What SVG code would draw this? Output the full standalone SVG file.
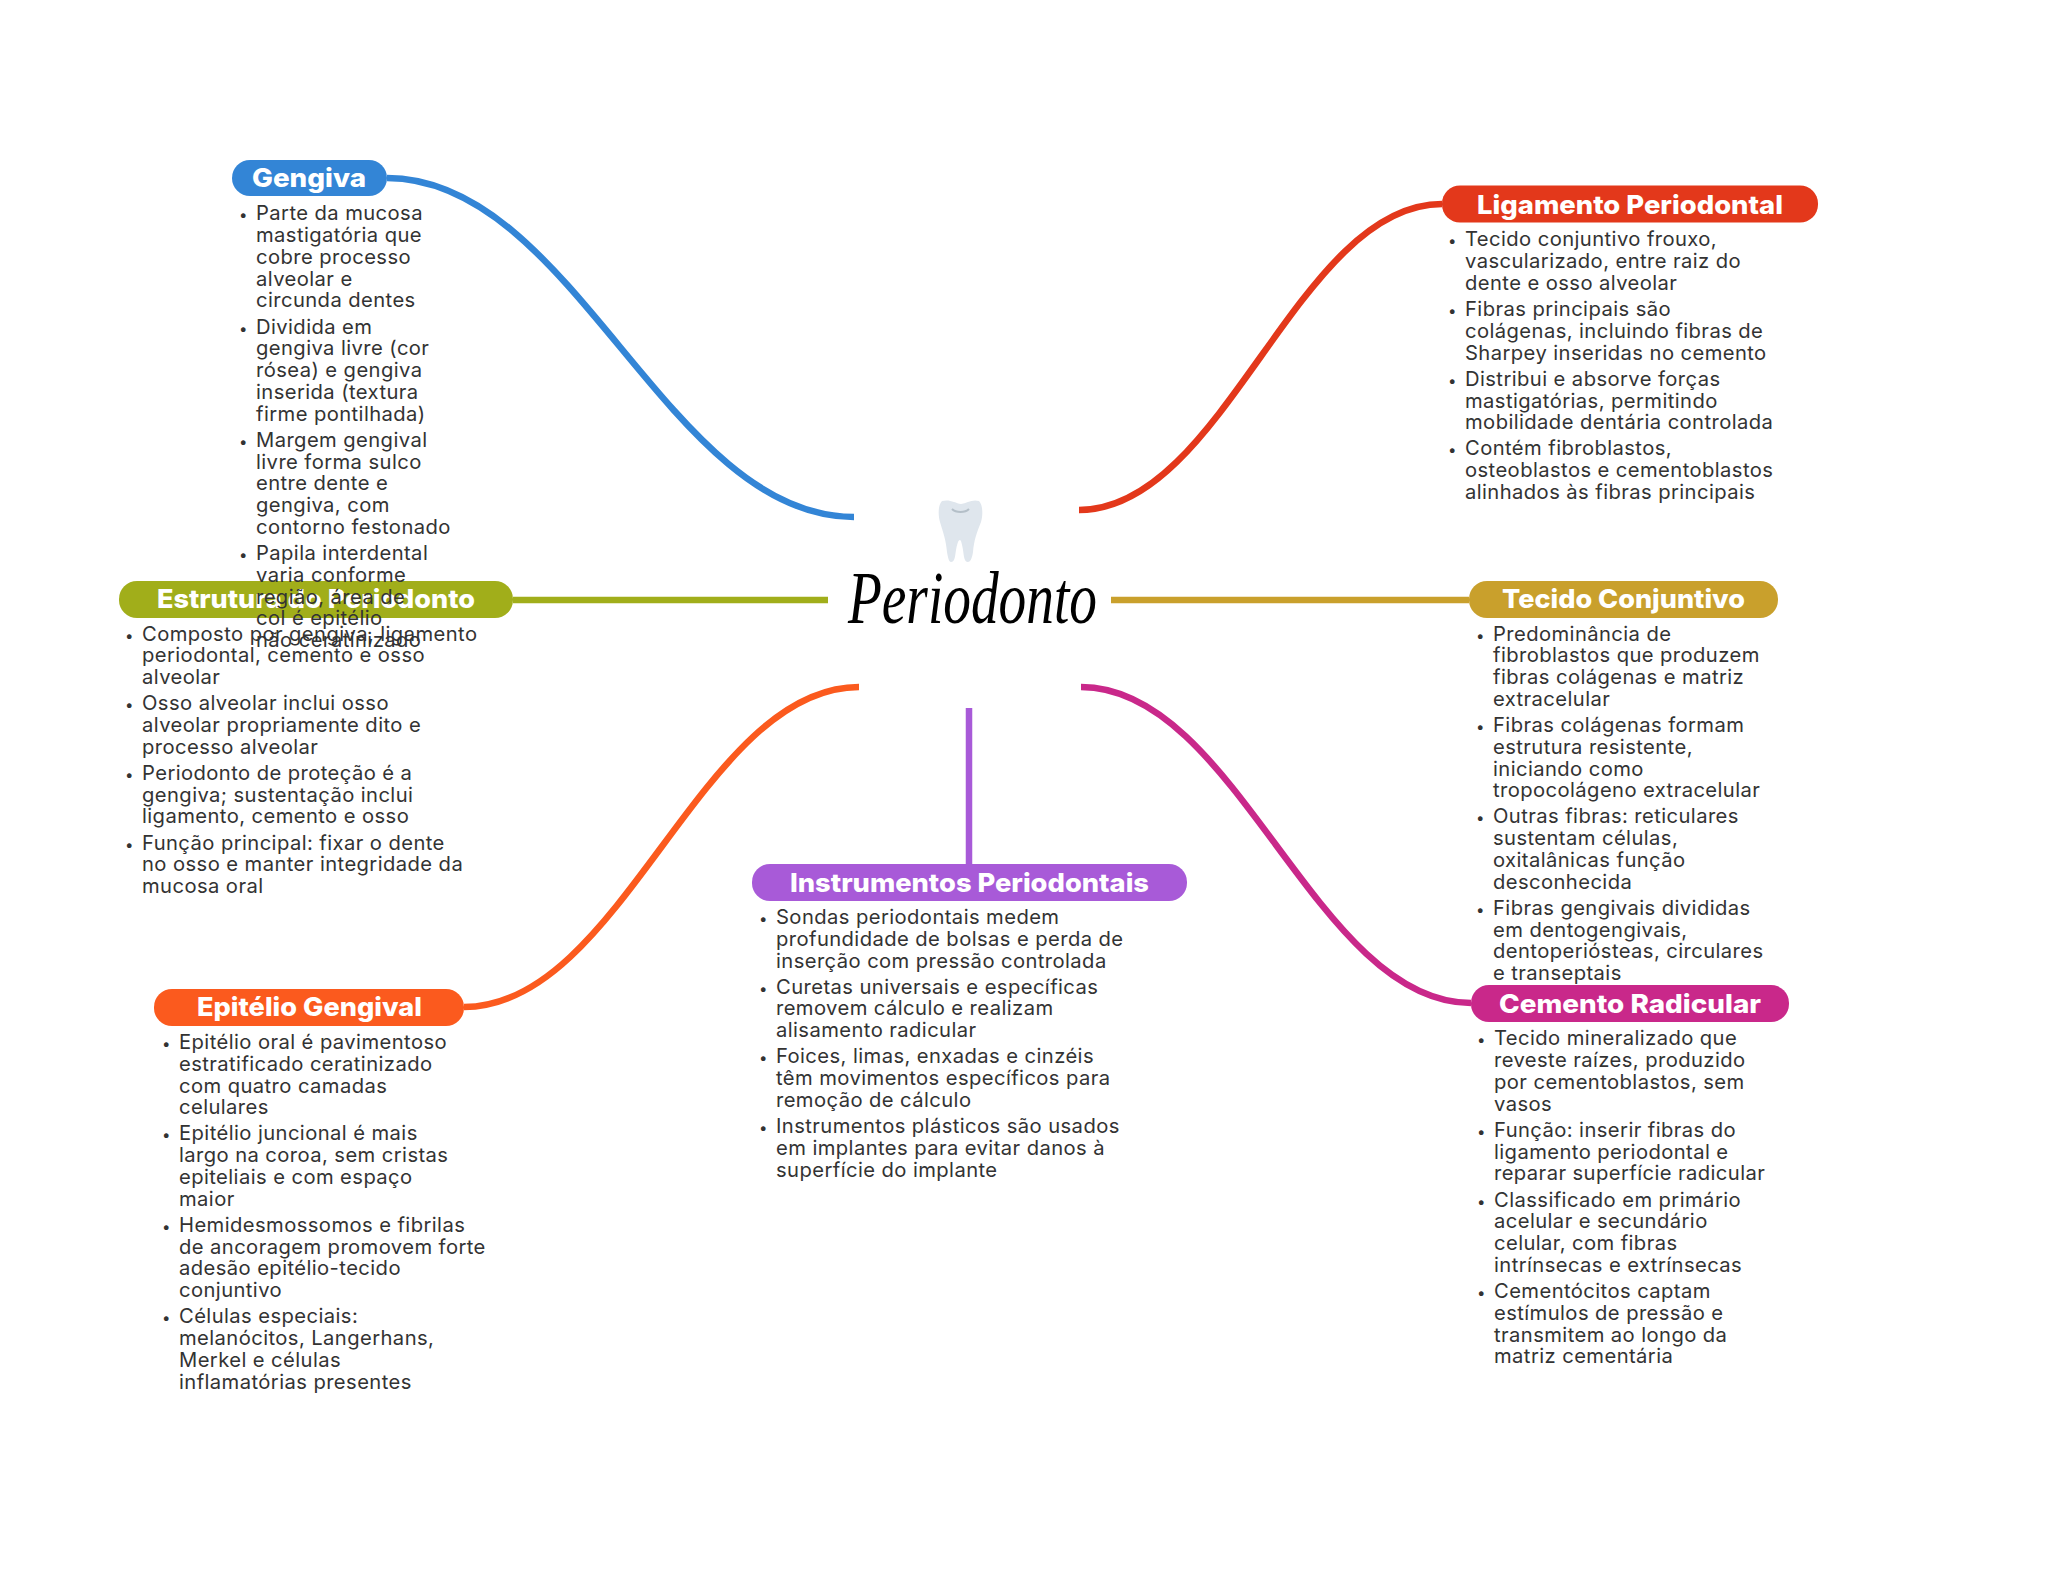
<svg xmlns="http://www.w3.org/2000/svg" width="2048" height="1569" viewBox="0 0 2048 1569">
<style>
.c{fill:none;stroke-width:6.5}
.t{font-family:Inter,"Noto Sans",sans-serif;font-weight:800;font-size:26px;fill:#fff}
.l{font-family:Inter,"Noto Sans",sans-serif;font-size:20.2px;letter-spacing:.42px;fill:#333}
.b{font-size:15px}
</style>
<rect width="2048" height="1569" fill="#fff"/>
<g id="connectors">
<path class="c" stroke="#3385d6" d="M387 178C574 178 667 517 854 517"/>
<path class="c" stroke="#e3381b" d="M1442 204C1297 204 1224 510 1079 510"/>
<path class="c" stroke="#a1ae1a" d="M513 600H828"/>
<path class="c" stroke="#c9a02c" d="M1111 600H1469"/>
<path class="c" stroke="#fb5a1e" d="M464 1007C622 1007 701 687 859 687"/>
<path class="c" stroke="#c9288a" d="M1471 1003C1315 1003 1237 687 1081 687"/>
<path class="c" stroke="#a85ad8" d="M969 708V864"/>
</g>
<g id="root">
<path fill="#dfe6ed" d="M942 501C950 499 955 503 961 504C967 503 972 499 979 501C983 505 983 515 981 522C977 532 974 540 973 552C972 559 970 562 968 562C964 562 964 556 963 550C962 544 961 540 960 540C958 540 957 545 956 550C955 556 955 562 951 562C949 562 948 558 947 552C946 540 943 532 940 522C938 515 938 505 942 501Z"/>
<path fill="none" stroke="#b4bfc8" stroke-width="2" d="M952 509C956 513 965 513 969 509"/>
<text x="848" y="623" font-family="'Liberation Serif',serif" font-style="italic" font-size="74" fill="#000" textLength="249" lengthAdjust="spacingAndGlyphs">Periodonto</text>
</g>
<g id="n-gengiva">
<rect x="232" y="160" width="155" height="36" rx="18" fill="#3385d6"/>
<text class="t" x="252" y="187" textLength="114" lengthAdjust="spacingAndGlyphs">Gengiva</text>
</g>
<g id="n-estrutura">
<rect x="119" y="581" width="394" height="37" rx="18" fill="#a1ae1a"/>
<text class="t" x="157" y="608" textLength="318" lengthAdjust="spacingAndGlyphs">Estrutura do Periodonto</text>
</g>
<g id="n-gengiva-text">
<text class="l"><tspan class="b" x="239" y="220.3">•</tspan><tspan x="256">Parte da mucosa</tspan><tspan x="256" dy="21.76">mastigatória que</tspan><tspan x="256" dy="21.76">cobre processo</tspan><tspan x="256" dy="21.76">alveolar e</tspan><tspan x="256" dy="21.76">circunda dentes</tspan><tspan class="b" x="239" dy="26.2">•</tspan><tspan x="256">Dividida em</tspan><tspan x="256" dy="21.76">gengiva livre (cor</tspan><tspan x="256" dy="21.76">rósea) e gengiva</tspan><tspan x="256" dy="21.76">inserida (textura</tspan><tspan x="256" dy="21.76">firme pontilhada)</tspan><tspan class="b" x="239" dy="26.2">•</tspan><tspan x="256">Margem gengival</tspan><tspan x="256" dy="21.76">livre forma sulco</tspan><tspan x="256" dy="21.76">entre dente e</tspan><tspan x="256" dy="21.76">gengiva, com</tspan><tspan x="256" dy="21.76">contorno festonado</tspan><tspan class="b" x="239" dy="26.2">•</tspan><tspan x="256">Papila interdental</tspan><tspan x="256" dy="21.76">varia conforme</tspan><tspan x="256" dy="21.76">região, área de</tspan><tspan x="256" dy="21.76">col é epitélio</tspan><tspan x="256" dy="21.76">não ceratinizado</tspan></text>
</g>
<g id="n-estrutura-text">
<text class="l"><tspan class="b" x="125" y="640.5">•</tspan><tspan x="142">Composto por gengiva, ligamento</tspan><tspan x="142" dy="21.76">periodontal, cemento e osso</tspan><tspan x="142" dy="21.76">alveolar</tspan><tspan class="b" x="125" dy="26.2">•</tspan><tspan x="142">Osso alveolar inclui osso</tspan><tspan x="142" dy="21.76">alveolar propriamente dito e</tspan><tspan x="142" dy="21.76">processo alveolar</tspan><tspan class="b" x="125" dy="26.2">•</tspan><tspan x="142">Periodonto de proteção é a</tspan><tspan x="142" dy="21.76">gengiva; sustentação inclui</tspan><tspan x="142" dy="21.76">ligamento, cemento e osso</tspan><tspan class="b" x="125" dy="26.2">•</tspan><tspan x="142">Função principal: fixar o dente</tspan><tspan x="142" dy="21.76">no osso e manter integridade da</tspan><tspan x="142" dy="21.76">mucosa oral</tspan></text>
</g>
<g id="n-ligamento">
<rect x="1442" y="185.5" width="376" height="37" rx="18" fill="#e3381b"/>
<text class="t" x="1477" y="213.5" textLength="306" lengthAdjust="spacingAndGlyphs">Ligamento Periodontal</text>
<text class="l"><tspan class="b" x="1448" y="246.3">•</tspan><tspan x="1465">Tecido conjuntivo frouxo,</tspan><tspan x="1465" dy="21.76">vascularizado, entre raiz do</tspan><tspan x="1465" dy="21.76">dente e osso alveolar</tspan><tspan class="b" x="1448" dy="26.2">•</tspan><tspan x="1465">Fibras principais são</tspan><tspan x="1465" dy="21.76">colágenas, incluindo fibras de</tspan><tspan x="1465" dy="21.76">Sharpey inseridas no cemento</tspan><tspan class="b" x="1448" dy="26.2">•</tspan><tspan x="1465">Distribui e absorve forças</tspan><tspan x="1465" dy="21.76">mastigatórias, permitindo</tspan><tspan x="1465" dy="21.76">mobilidade dentária controlada</tspan><tspan class="b" x="1448" dy="26.2">•</tspan><tspan x="1465">Contém fibroblastos,</tspan><tspan x="1465" dy="21.76">osteoblastos e cementoblastos</tspan><tspan x="1465" dy="21.76">alinhados às fibras principais</tspan></text>
</g>
<g id="n-tecido">
<rect x="1469" y="581" width="309" height="37" rx="18" fill="#c9a02c"/>
<text class="t" x="1502" y="608" textLength="243" lengthAdjust="spacingAndGlyphs">Tecido Conjuntivo</text>
<text class="l"><tspan class="b" x="1476" y="640.5">•</tspan><tspan x="1493">Predominância de</tspan><tspan x="1493" dy="21.76">fibroblastos que produzem</tspan><tspan x="1493" dy="21.76">fibras colágenas e matriz</tspan><tspan x="1493" dy="21.76">extracelular</tspan><tspan class="b" x="1476" dy="26.2">•</tspan><tspan x="1493">Fibras colágenas formam</tspan><tspan x="1493" dy="21.76">estrutura resistente,</tspan><tspan x="1493" dy="21.76">iniciando como</tspan><tspan x="1493" dy="21.76">tropocolágeno extracelular</tspan><tspan class="b" x="1476" dy="26.2">•</tspan><tspan x="1493">Outras fibras: reticulares</tspan><tspan x="1493" dy="21.76">sustentam células,</tspan><tspan x="1493" dy="21.76">oxitalânicas função</tspan><tspan x="1493" dy="21.76">desconhecida</tspan><tspan class="b" x="1476" dy="26.2">•</tspan><tspan x="1493">Fibras gengivais divididas</tspan><tspan x="1493" dy="21.76">em dentogengivais,</tspan><tspan x="1493" dy="21.76">dentoperiósteas, circulares</tspan><tspan x="1493" dy="21.76">e transeptais</tspan></text>
</g>
<g id="n-epitelio">
<rect x="154" y="989" width="310" height="37" rx="18" fill="#fb5a1e"/>
<text class="t" x="197" y="1016" textLength="225" lengthAdjust="spacingAndGlyphs">Epitélio Gengival</text>
<text class="l"><tspan class="b" x="162" y="1049">•</tspan><tspan x="179">Epitélio oral é pavimentoso</tspan><tspan x="179" dy="21.76">estratificado ceratinizado</tspan><tspan x="179" dy="21.76">com quatro camadas</tspan><tspan x="179" dy="21.76">celulares</tspan><tspan class="b" x="162" dy="26.2">•</tspan><tspan x="179">Epitélio juncional é mais</tspan><tspan x="179" dy="21.76">largo na coroa, sem cristas</tspan><tspan x="179" dy="21.76">epiteliais e com espaço</tspan><tspan x="179" dy="21.76">maior</tspan><tspan class="b" x="162" dy="26.2">•</tspan><tspan x="179">Hemidesmossomos e fibrilas</tspan><tspan x="179" dy="21.76">de ancoragem promovem forte</tspan><tspan x="179" dy="21.76">adesão epitélio-tecido</tspan><tspan x="179" dy="21.76">conjuntivo</tspan><tspan class="b" x="162" dy="26.2">•</tspan><tspan x="179">Células especiais:</tspan><tspan x="179" dy="21.76">melanócitos, Langerhans,</tspan><tspan x="179" dy="21.76">Merkel e células</tspan><tspan x="179" dy="21.76">inflamatórias presentes</tspan></text>
</g>
<g id="n-instrumentos">
<rect x="752" y="864" width="435" height="37" rx="18" fill="#a85ad8"/>
<text class="t" x="790" y="892" textLength="359" lengthAdjust="spacingAndGlyphs">Instrumentos Periodontais</text>
<text class="l"><tspan class="b" x="759" y="924">•</tspan><tspan x="776">Sondas periodontais medem</tspan><tspan x="776" dy="21.76">profundidade de bolsas e perda de</tspan><tspan x="776" dy="21.76">inserção com pressão controlada</tspan><tspan class="b" x="759" dy="26.2">•</tspan><tspan x="776">Curetas universais e específicas</tspan><tspan x="776" dy="21.76">removem cálculo e realizam</tspan><tspan x="776" dy="21.76">alisamento radicular</tspan><tspan class="b" x="759" dy="26.2">•</tspan><tspan x="776">Foices, limas, enxadas e cinzéis</tspan><tspan x="776" dy="21.76">têm movimentos específicos para</tspan><tspan x="776" dy="21.76">remoção de cálculo</tspan><tspan class="b" x="759" dy="26.2">•</tspan><tspan x="776">Instrumentos plásticos são usados</tspan><tspan x="776" dy="21.76">em implantes para evitar danos à</tspan><tspan x="776" dy="21.76">superfície do implante</tspan></text>
</g>
<g id="n-cemento">
<rect x="1471" y="985" width="318" height="37" rx="18" fill="#c9288a"/>
<text class="t" x="1499" y="1013" textLength="262" lengthAdjust="spacingAndGlyphs">Cemento Radicular</text>
<text class="l"><tspan class="b" x="1477" y="1045.3">•</tspan><tspan x="1494">Tecido mineralizado que</tspan><tspan x="1494" dy="21.76">reveste raízes, produzido</tspan><tspan x="1494" dy="21.76">por cementoblastos, sem</tspan><tspan x="1494" dy="21.76">vasos</tspan><tspan class="b" x="1477" dy="26.2">•</tspan><tspan x="1494">Função: inserir fibras do</tspan><tspan x="1494" dy="21.76">ligamento periodontal e</tspan><tspan x="1494" dy="21.76">reparar superfície radicular</tspan><tspan class="b" x="1477" dy="26.2">•</tspan><tspan x="1494">Classificado em primário</tspan><tspan x="1494" dy="21.76">acelular e secundário</tspan><tspan x="1494" dy="21.76">celular, com fibras</tspan><tspan x="1494" dy="21.76">intrínsecas e extrínsecas</tspan><tspan class="b" x="1477" dy="26.2">•</tspan><tspan x="1494">Cementócitos captam</tspan><tspan x="1494" dy="21.76">estímulos de pressão e</tspan><tspan x="1494" dy="21.76">transmitem ao longo da</tspan><tspan x="1494" dy="21.76">matriz cementária</tspan></text>
</g>
</svg>
